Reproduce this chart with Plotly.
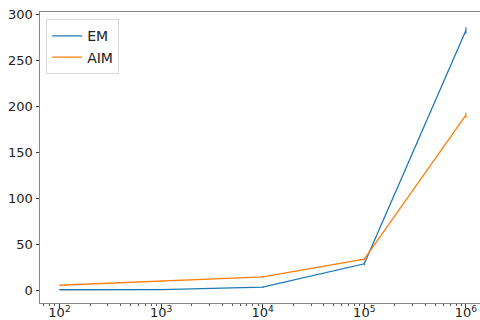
import numpy as np
import plotly.graph_objects as go

# Problem sizes (log-scaled x axis)
sizes = [1e2, 1e3, 1e4, 1e5, 1e6]

# Mean values and error bar half-widths for each method
em_values = [0.3, 0.5, 3.2, 28.5, 282.0]
em_errors = [0.3, 0.3, 0.6, 1.5, 3.5]
aim_values = [5.2, 9.6, 14.2, 33.5, 190.0]
aim_errors = [0.5, 0.8, 0.8, 1.5, 3.0]

major_ticks = [1e2, 1e3, 1e4, 1e5, 1e6]
major_labels = ["10<sup>2</sup>", "10<sup>3</sup>", "10<sup>4</sup>",
                "10<sup>5</sup>", "10<sup>6</sup>"]
minor_ticks = [k * 10 ** d for d in range(1, 7) for k in range(2, 10)]

BLUE = "#1f77b4"
ORANGE = "#ff7f0e"
FONT = "DejaVu Sans"

fig = go.Figure()
for name, vals, errs, color in [
    ("EM", em_values, em_errors, BLUE),
    ("AIM", aim_values, aim_errors, ORANGE),
]:
    fig.add_trace(go.Scatter(
        x=sizes, y=vals, name=name, mode="lines",
        line=dict(color=color, width=1.3),
        error_y=dict(type="data", array=errs, visible=True,
                     color=color, thickness=1.2, width=0),
    ))

fig.update_layout(
    width=480, height=320,
    margin=dict(l=40, r=0, t=12, b=17),
    paper_bgcolor="white", plot_bgcolor="white",
    font=dict(family=FONT, size=13, color="#222"),
    showlegend=True,
    legend=dict(
        x=0.014, y=0.975, xanchor="left", yanchor="top",
        bgcolor="white", bordercolor="#d9d9d9", borderwidth=1,
        font=dict(family=FONT, size=14, color="#222"),
        tracegroupgap=0, itemwidth=30,
    ),
)

fig.update_xaxes(
    type="log", range=[1.808, 6.139], automargin=False,
    tickmode="array", tickvals=major_ticks, ticktext=major_labels,
    ticks="outside", ticklen=3.5, tickwidth=1, tickcolor="#333",
    ticklabelstandoff=-6,
    minor=dict(tickmode="array", tickvals=minor_ticks, ticks="outside",
               ticklen=2, tickwidth=0.8, tickcolor="#555", showgrid=False),
    showline=True, linecolor="#888", linewidth=1, mirror=True,
    showgrid=False, zeroline=False,
    tickfont=dict(family=FONT, size=13, color="#222"),
)
fig.update_yaxes(
    range=[-14.1, 302.2], automargin=False,
    tickmode="array", tickvals=[0, 50, 100, 150, 200, 250, 300],
    ticks="outside", ticklen=3.5, tickwidth=1, tickcolor="#333",
    showline=True, linecolor="#888", linewidth=1, mirror=False,
    showgrid=False, zeroline=False,
    tickfont=dict(family=FONT, size=13, color="#222"),
)

fig.write_html("out.html")
